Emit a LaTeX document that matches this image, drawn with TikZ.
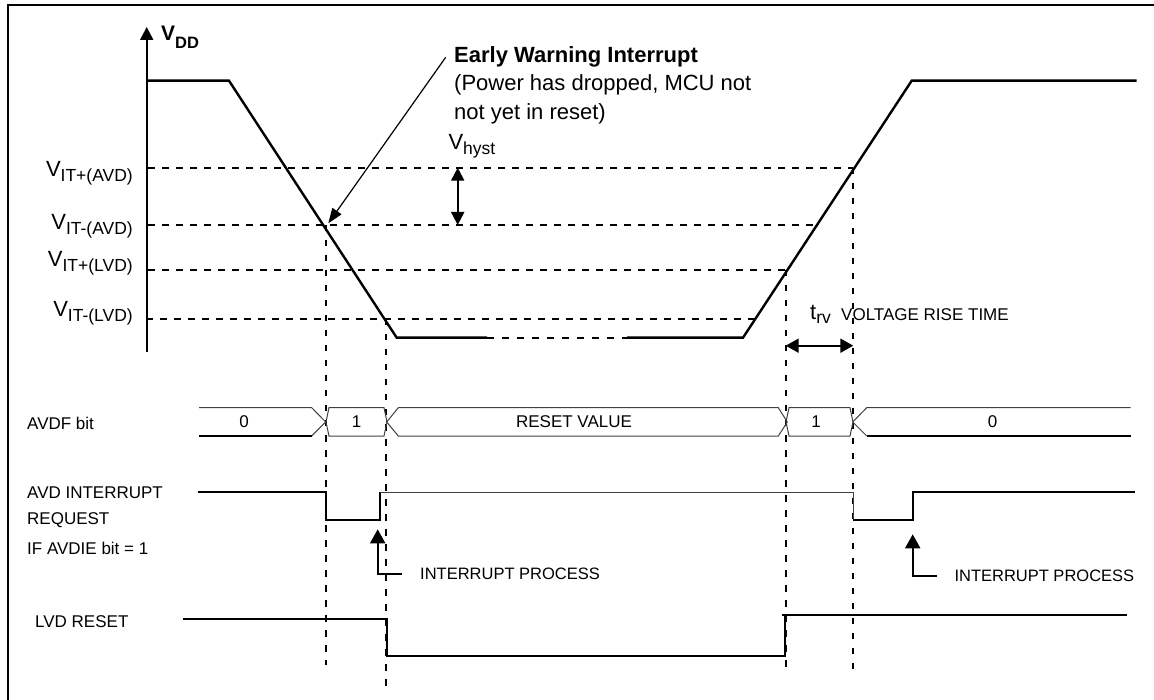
\documentclass[tikz,border=0pt]{standalone}
\usepackage{fontspec}
\setmainfont{Liberation Sans}
\usetikzlibrary{arrows.meta}
\newcommand{\fs}[1]{\fontsize{#1}{#1}\selectfont}
\newcommand{\lowsub}[2][5pt]{\raisebox{-#1}{\fs{17.5}#2}}
\begin{document}
\begin{tikzpicture}[x=1pt,y=-1pt,
  wave/.style={line width=2.4pt, line join=miter},
  thr/.style={line width=1.7pt, dash pattern=on 6.5pt off 7.5pt},
  vguide/.style={line width=1.9pt, dash pattern=on 6.5pt off 8.5pt},
  bus/.style={line width=1pt, draw=black!75},
  busb/.style={line width=2pt},
  sig/.style={line width=2pt},
  thin sig/.style={line width=1pt, draw=black!75},
  tipup/.style={-{Triangle[length=14pt,width=15pt]}},
  lab/.style={inner sep=0pt, font=\fs{17}},
  big/.style={inner sep=0pt, font=\fs{22}}]
\useasboundingbox (0,0) rectangle (1154,700);
% frame
\draw[line width=2.2pt] (8,700) -- (8,5) -- (1154,5);
% axis
\coordinate (ax0) at (146.7,352);
\coordinate (ax1) at (146.7,27);
\draw[line width=2pt, -{Triangle[length=13pt,width=13pt]}] (ax0) -- (ax1);
\node[inner sep=0pt, anchor=base west, font=\bfseries\fs{21}] (vdd) at (161,41) {V\raisebox{-8pt}{\fs{16.5}DD}};
% thresholds
\draw[thr] (148,167.7) -- (853,167.7);
\draw[thr] (148,225) -- (817,225);
\draw[thr] (148,270) -- (791,270);
\draw[thr] (146,319) -- (756,319);
\node[big, anchor=base east] (t1) at (133,177) {V\lowsub{IT+(AVD)}};
\node[big, anchor=base east] (t2) at (133,230) {V\lowsub{IT-(AVD)}};
\node[big, anchor=base east] (t3) at (133,267) {V\lowsub{IT+(LVD)}};
\node[big, anchor=base east] (t4) at (133,317) {V\lowsub{IT-(LVD)}};
% waveform
\coordinate (A0) at (146.7,80.7);
\coordinate (A1) at (229,80.7);
\coordinate (A2) at (396.7,337.7);
\coordinate (A3) at (487,337.7);
\coordinate (A4) at (627,337.7);
\coordinate (A5) at (743,337.7);
\coordinate (A6) at (911.7,80.7);
\coordinate (A7) at (1136.7,80.7);
\draw[wave] (A0) -- (A1) -- (A2) -- (A3);
\draw[line width=2.2pt, dash pattern=on 7pt off 8pt] (A3) -- (A4);
\draw[wave] (A4) -- (A5) -- (A6) -- (A7);
% vertical guides
\draw[vguide] (325.7,225) -- (325.7,665);
\draw[vguide] (385.7,319) -- (385.7,688);
\draw[vguide] (786,270) -- (786,672);
\draw[vguide] (853.3,167.7) -- (853.3,672);
% early warning
\node[big, anchor=base west, font=\bfseries\fs{22}] (ew) at (454,62.7) {Early Warning Interrupt};
\node[big, anchor=base west] (ew2) at (454,90.7) {(Power has dropped, MCU not};
\node[big, anchor=base west] (ew3) at (454,120) {not yet in reset)};
\coordinate (ewa) at (445.7,57.3);
\coordinate (ewb) at (328.3,223.3);
\draw[line width=1.2pt, -{Triangle[length=15pt,width=11pt]}] (ewa) -- (ewb);
% hysteresis
\coordinate (h1) at (457.7,167.7);
\coordinate (h2) at (457.7,225);
\draw[line width=2pt, {Triangle[length=13pt,width=13pt]}-{Triangle[length=13pt,width=13pt]}] (h1) -- (h2);
\node[big, anchor=base west] (vh) at (448.3,150) {V\lowsub[4.5pt]{hyst}};
% rise time
\coordinate (r1) at (785.7,345.7);
\coordinate (r2) at (853.3,345.7);
\draw[line width=2pt, {Triangle[length=13pt,width=14pt]}-{Triangle[length=13pt,width=14pt]}] (r1) -- (r2);
\node[big, anchor=base west] (trv) at (810,320) {t\lowsub[4pt]{rv}};
\node[lab, anchor=base west] (vrt) at (841,320.5) {VOLTAGE RISE TIME};
% AVDF bus
\node[lab, anchor=west] (avdf) at (27,423) {AVDF bit};
\draw[bus] (199,407.7) -- (311.7,407.7) -- (325.7,422) -- (311.7,436);
\draw[busb] (199,436) -- (311.7,436);
\draw[bus] (329,407.7) -- (384,407.7) -- (387,422) -- (384,436) -- (329,436) -- (326,422) -- cycle;
\draw[bus] (398.3,407.7) -- (778.3,407.7) -- (787.3,422) -- (778.3,436) -- (398.3,436) -- (386.7,422) -- cycle;
\draw[bus] (789,407.7) -- (850,407.7) -- (853,422) -- (850,436) -- (789,436) -- (786,422) -- cycle;
\draw[bus] (1130.7,407.7) -- (866.7,407.7) -- (852.7,422) -- (866.7,436);
\draw[busb] (866.7,436) -- (1130.7,436);
\node[lab] (b0) at (244,422) {0};
\node[lab] (b1) at (356.7,422) {1};
\node[lab] (b2) at (574,422) {RESET VALUE};
\node[lab] (b3) at (816,422) {1};
\node[lab] (b4) at (992.7,422) {0};
% AVD interrupt request
\node[lab, anchor=west] (ir1) at (27,492.3) {AVD INTERRUPT};
\node[lab, anchor=west] (ir2) at (27,520.3) {REQUEST};
\node[lab, anchor=west] (ir3) at (27,548) {IF AVDIE bit = 1};
\draw[sig] (197.7,492.3) -- (325.7,492.3) -- (325.7,520.3) -- (380,520.3) -- (380,492.3);
\draw[thin sig] (380,492.3) -- (853,492.3) -- (853,520.3);
\draw[sig] (853,520.3) -- (912.7,520.3) -- (912.7,492.3) -- (1135,492.3);
% interrupt process arrows
\node[lab, anchor=west, font=\fs{16.5}] (ip1) at (420,574) {INTERRUPT PROCESS};
\node[lab, anchor=west, font=\fs{16.5}] (ip2) at (954.3,576) {INTERRUPT PROCESS};
\draw[sig, tipup] (401.7,574) -- (377.7,574) -- (377.7,529.3);
\draw[sig, tipup] (936.7,576) -- (912.7,576) -- (912.7,534.3);
% LVD reset
\node[lab, anchor=west] (lvd) at (35,621.7) {LVD RESET};
\draw[sig] (183.3,619) -- (386.7,619) -- (386.7,655.7) -- (785,655.7) -- (785,615);
\draw[sig] (782.3,615) -- (1126.7,615);
\end{tikzpicture}
\end{document}
